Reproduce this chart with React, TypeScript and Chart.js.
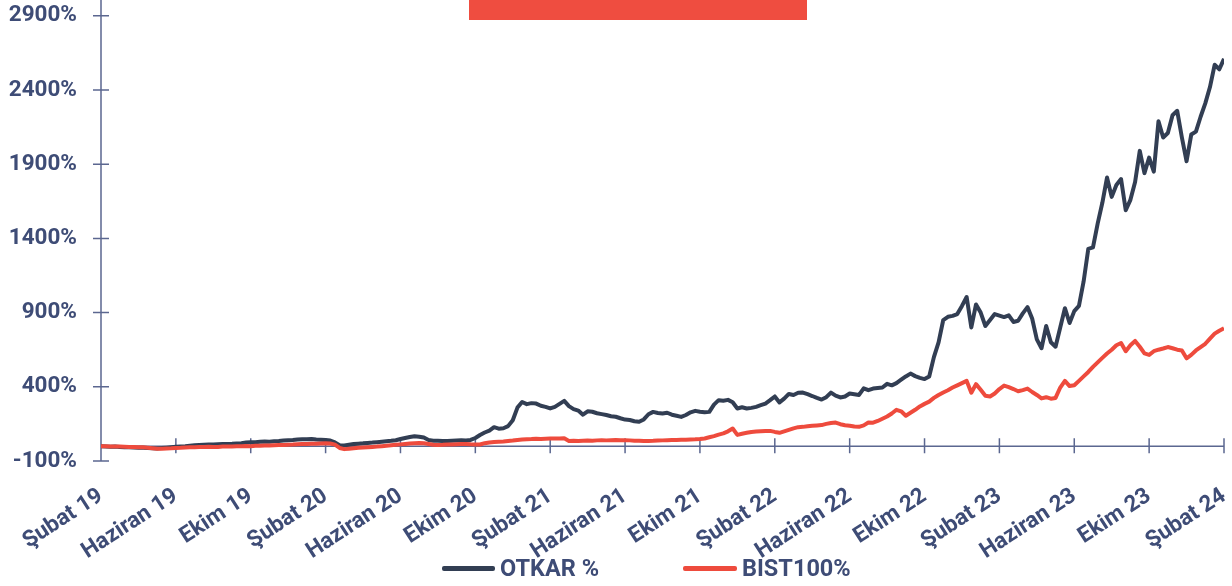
import { useEffect, useRef } from 'react'
import { Chart, registerables } from 'chart.js'
Chart.register(...registerables)

// x in months since Şubat 2019, one point per quarter month
const xTickPos = [0, 4, 8, 12, 16, 20, 24, 28, 32, 36, 40, 44, 48, 52, 56, 60]
const xTickLabels = ['Şubat 19', 'Haziran 19', 'Ekim 19', 'Şubat 20', 'Haziran 20', 'Ekim 20', 'Şubat 21', 'Haziran 21', 'Ekim 21', 'Şubat 22', 'Haziran 22', 'Ekim 22', 'Şubat 23', 'Haziran 23', 'Ekim 23', 'Şubat 24']
const yTicks = [-100, 400, 900, 1400, 1900, 2400, 2900]

const otkar = [
  0, -2, -4, -3, -6, -8, -7, -9, -10, -11,
  -12, -14, -15, -13, -10, -7, -4, -2, 0, 3,
  6, 8, 10, 11, 12, 13, 14, 15, 16, 18,
  20, 24, 27, 26, 29, 31, 30, 33, 35, 38,
  40, 42, 45, 47, 46, 48, 45, 44, 42, 38,
  25, 7, 4, 9, 14, 17, 19, 22, 24, 27,
  30, 33, 36, 40, 48, 55, 62, 67, 64, 58,
  42, 37, 36, 35, 34, 36, 38, 40, 39, 42,
  55, 75, 92, 105, 128, 118, 121, 135, 175, 260,
  298, 283, 290, 287, 272, 265, 254, 265, 285, 305,
  270, 250, 240, 212, 235, 232, 222, 216, 210, 202,
  198, 188, 179, 176, 168, 164, 180, 215, 231, 224,
  220, 225, 212, 205, 197, 210, 228, 238, 232, 228,
  231, 280, 310, 306, 312, 296, 254, 262, 254, 258,
  265, 276, 287, 310, 335, 295, 320, 352, 345, 360,
  361, 350, 338, 325, 314, 330, 361, 340, 328, 335,
  355, 350, 345, 390, 377, 388, 392, 395, 420, 410,
  425, 448, 470, 489, 472, 460, 452, 470, 600, 700,
  850, 872, 878, 890, 945, 1005, 800, 955, 900, 810,
  850, 890, 880, 870, 882, 837, 845, 895, 937, 860,
  720, 660, 810, 700, 670, 800, 930, 830, 910, 945,
  1110, 1330, 1340, 1500, 1640, 1810, 1680, 1760, 1800, 1590,
  1660, 1780, 1990, 1840, 1945, 1850, 2190, 2080, 2110, 2230,
  2260, 2080, 1920, 2100, 2120, 2220, 2310, 2420, 2570, 2540,
  2610,
]

const bist = [
  0, 0, -2, -3, -2, -4, -6, -5, -7, -8,
  -10, -14, -18, -17, -15, -14, -12, -11, -9, -8,
  -7, -6, -5, -4, -6, -5, -3, -2, -3, -1,
  0, 1, 0, 2, 3, 4, 5, 6, 7, 8,
  10, 11, 13, 14, 15, 16, 17, 18, 19, 18,
  10, -12, -20, -17, -14, -11, -9, -7, -5, -3,
  0, 3, 6, 9, 12, 15, 18, 20, 22, 20,
  15, 10, 8, 9, 11, 12, 13, 14, 15, 13,
  12, 11, 20, 25, 28, 30, 32, 35, 38, 42,
  45, 47, 48, 50, 49, 50, 51, 52, 51, 53,
  35, 36, 34, 36, 38, 37, 39, 40, 39, 40,
  41, 40, 40, 39, 37, 36, 34, 35, 36, 38,
  39, 40, 41, 42, 43, 44, 45, 46, 48, 52,
  60, 68, 78, 86, 100, 119, 76, 84, 90, 96,
  98, 100, 102, 103, 96, 90, 100, 110, 120, 128,
  130, 134, 137, 140, 142, 150, 156, 159, 148, 141,
  138, 132, 130, 140, 159, 158, 170, 185, 200, 220,
  245, 235, 205, 225, 245, 268, 285, 300, 325, 345,
  362, 377, 395, 410, 425, 440, 360, 418, 380, 340,
  335, 355, 385, 408, 398, 385, 370, 378, 388, 365,
  345, 322, 330, 320, 325, 395, 440, 405, 410, 440,
  470, 500, 534, 565, 595, 624, 650, 680, 695, 640,
  680, 709, 670, 625, 615, 640, 650, 658, 668, 660,
  650, 645, 592, 615, 645, 668, 690, 725, 758, 778,
  795,
]

const TEXT = '#3e4c76'
const AXIS = '#5b6790'
const DARK = '#323e53'
const RED = '#ee4b3d'
const FONT = 'Roboto, "Liberation Sans", sans-serif'

const crossAxes = {
  id: 'crossAxes',
  beforeDatasetsDraw(chart: Chart) {
    const { ctx, chartArea: a } = chart
    const x = chart.scales.x, y = chart.scales.y
    const y0 = y.getPixelForValue(0)
    ctx.save()
    ctx.strokeStyle = AXIS
    ctx.lineWidth = 1.5
    ctx.beginPath()
    ctx.moveTo(a.left, 0); ctx.lineTo(a.left, y.getPixelForValue(-100))
    yTicks.forEach(v => { const py = y.getPixelForValue(v); ctx.moveTo(a.left - 8, py); ctx.lineTo(a.left + 8, py) })
    ctx.moveTo(a.left, y0); ctx.lineTo(a.right, y0)
    xTickPos.forEach(m => { const px = x.getPixelForValue(m); ctx.moveTo(px, y0 - 8); ctx.lineTo(px, y0 + 7) })
    ctx.stroke()
    ctx.restore()
  },
}

export default function App() {
  const ref = useRef<HTMLCanvasElement>(null)

  useEffect(() => {
    if (!ref.current) return
    const font = { family: FONT, size: 22.5, weight: 'bold' as const }
    const chart = new Chart(ref.current, {
      type: 'line',
      data: {
        datasets: [
          { label: 'BIST100%', data: bist.map((v, i) => ({ x: i / 4, y: v })), borderColor: RED, backgroundColor: RED },
          { label: 'OTKAR %', data: otkar.map((v, i) => ({ x: i / 4, y: v })), borderColor: DARK, backgroundColor: DARK },
        ],
      },
      options: {
        animation: false,
        responsive: true,
        maintainAspectRatio: false,
        layout: { padding: { left: 0, right: 8, top: 1, bottom: 0 } },
        plugins: { legend: { display: false }, tooltip: { enabled: false } },
        elements: { point: { radius: 0 }, line: { borderWidth: 4, tension: 0, borderJoinStyle: 'round' } },
        scales: {
          x: {
            type: 'linear', min: 0, max: 60,
            grid: { display: false, drawTicks: false }, border: { display: false },
            afterBuildTicks: (s: any) => { s.ticks = xTickPos.map(value => ({ value })) },
            afterFit: (s: any) => { s.height = 125; s.paddingLeft = 0; s.paddingRight = 0 },
            ticks: { autoSkip: false, minRotation: 33, maxRotation: 33, padding: 22, color: TEXT, font, callback: (_v: any, i: number) => xTickLabels[i] },
          },
          y: {
            min: -100, max: 3000,
            grid: { display: false, drawTicks: false }, border: { display: false },
            afterBuildTicks: (s: any) => { s.ticks = yTicks.map(value => ({ value })) },
            afterFit: (s: any) => { s.width = 101; s.paddingTop = 0; s.paddingBottom = 0 },
            ticks: { padding: 24, color: TEXT, font, callback: (v: any) => v + '%' },
          },
        },
      },
      plugins: [crossAxes],
    })
    return () => chart.destroy()
  }, [])

  const legendText = { position: 'absolute' as const, top: 553, height: 30, lineHeight: '30px', fontFamily: FONT, fontWeight: 'bold' as const, fontSize: 23.5, color: TEXT, whiteSpace: 'nowrap' as const }

  return (
    <div style={{ position: 'fixed', left: 0, top: 0, width: 1232, height: 586, background: '#fff' }}>
      <div style={{ position: 'absolute', left: 469, top: 0, width: 338, height: 20, background: '#ef4d40' }} />
      <canvas ref={ref} />
      <div style={{ position: 'absolute', left: 442, top: 566, width: 53, height: 5, background: DARK, borderRadius: 2 }} />
      <div style={{ ...legendText, left: 500 }}>OTKAR %</div>
      <div style={{ position: 'absolute', left: 683, top: 566, width: 54, height: 5, background: RED, borderRadius: 2 }} />
      <div style={{ ...legendText, left: 742 }}>BIST100%</div>
    </div>
  )
}
